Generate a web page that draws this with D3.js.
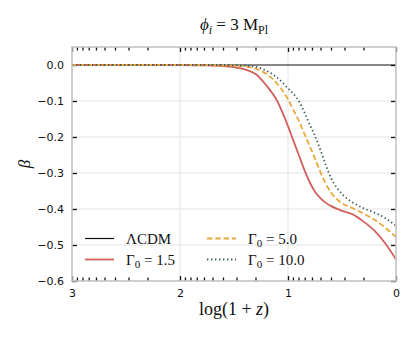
<!DOCTYPE html>
<html>
<head>
<meta charset="utf-8">
<script src="https://cdn.jsdelivr.net/npm/d3@7"></script>
<style>
  body { margin: 0; background: white; }
  svg { display: block; }
</style>
</head>
<body>
<div id="main_content"></div>
<script>
var width = 415, height = 338;
var margin = {left: 72, right: 19, top: 47, bottom: 57};

// log(1+z) grid, same for every model
var logz = [3.0, 2.0, 1.8, 1.6, 1.5, 1.4, 1.3, 1.2, 1.1, 1.0, 0.95, 0.9, 0.85, 0.8, 0.75, 0.7, 0.65, 0.6, 0.55, 0.5, 0.4, 0.3, 0.2, 0.1, 0.0];

var betaLCDM = logz.map(function() { return 0; });
var betaG15  = [0, 0, -0.001, -0.003, -0.006, -0.012, -0.025, -0.057, -0.100, -0.170, -0.210, -0.250, -0.290, -0.325, -0.352, -0.370, -0.383, -0.392, -0.399, -0.405, -0.415, -0.435, -0.460, -0.495, -0.540];
var betaG5   = [0, 0, 0, -0.001, -0.002, -0.004, -0.010, -0.025, -0.052, -0.095, -0.125, -0.155, -0.190, -0.225, -0.260, -0.297, -0.330, -0.355, -0.372, -0.384, -0.398, -0.413, -0.430, -0.452, -0.478];
var betaG10  = [0, 0, 0, 0, -0.001, -0.002, -0.005, -0.016, -0.035, -0.065, -0.080, -0.100, -0.130, -0.165, -0.197, -0.236, -0.278, -0.315, -0.340, -0.358, -0.382, -0.398, -0.410, -0.425, -0.447];

var xMajor = [3, 2, 1, 0];
var yTicks = [0.0, -0.1, -0.2, -0.3, -0.4, -0.5, -0.6];

var series = [
  {name: 'ΛCDM', values: betaLCDM, color: '#111111', width: 1.2, dash: null},
  {name: 'Γ₀ = 1.5', sub: '1.5', values: betaG15, color: '#d1605e', width: 1.8, dash: null},
  {name: 'Γ₀ = 5.0', sub: '5.0', values: betaG5, color: '#e9a93b', width: 1.8, dash: '5.5,2.8'},
  {name: 'Γ₀ = 10.0', sub: '10.0', values: betaG10, color: '#3f5f57', width: 1.8, dash: '1.4,2.6'}
];

var svg = d3.select('#main_content').append('svg')
  .attr('width', width)
  .attr('height', height)
  .style('background', 'white');

var x = d3.scaleLinear().domain([3, 0]).range([margin.left, width - margin.right]);
var y = d3.scaleLinear().domain([-0.6, 0.05]).range([height - margin.bottom, margin.top]);

var x0 = x.range()[0], x1 = x.range()[1], yb = y.range()[0], yt = y.range()[1];

// grid
svg.append('g').selectAll('line.gx')
  .data([2, 1]).enter().append('line')
  .attr('x1', function(d) { return x(d); }).attr('x2', function(d) { return x(d); })
  .attr('y1', yt).attr('y2', yb)
  .attr('stroke', '#e3e3e3').attr('stroke-width', 1);
svg.append('g').selectAll('line.gy')
  .data(yTicks.slice(1, 6)).enter().append('line')
  .attr('y1', function(d) { return y(d); }).attr('y2', function(d) { return y(d); })
  .attr('x1', x0).attr('x2', x1)
  .attr('stroke', '#e3e3e3').attr('stroke-width', 1);

// minor x ticks at n + log10(k)
var xMinor = [];
[0, 1, 2].forEach(function(n) {
  d3.range(2, 10).forEach(function(k) { xMinor.push(n + Math.log10(k)); });
});

var fontSans = '"DejaVu Sans", sans-serif';
var fontSerif = '"Liberation Serif", "DejaVu Serif", serif';

svg.append('g')
  .attr('transform', 'translate(0,' + yb + ')')
  .call(d3.axisBottom(x).tickValues(xMajor).tickFormat(d3.format('d')).tickSize(-5).tickPadding(8));
svg.append('g')
  .attr('transform', 'translate(0,' + yb + ')')
  .call(d3.axisBottom(x).tickValues(xMinor).tickFormat('').tickSize(-3.5));
svg.append('g')
  .attr('transform', 'translate(0,' + yt + ')')
  .call(d3.axisTop(x).tickValues(xMajor).tickFormat('').tickSize(-5));
svg.append('g')
  .attr('transform', 'translate(0,' + yt + ')')
  .call(d3.axisTop(x).tickValues(xMinor).tickFormat('').tickSize(-3.5));

svg.append('g')
  .attr('transform', 'translate(' + x0 + ',0)')
  .call(d3.axisLeft(y).tickValues(yTicks).tickFormat(function(d) {
    return d3.format('.1f')(d).replace('-', '\u2212');
  }).tickSize(-5).tickPadding(8));
svg.append('g')
  .attr('transform', 'translate(' + x1 + ',0)')
  .call(d3.axisRight(y).tickValues(yTicks).tickFormat('').tickSize(-5));

svg.selectAll('.domain').remove();
svg.selectAll('.tick line').attr('stroke', '#111').attr('stroke-width', 1.3);
svg.selectAll('.tick text').attr('fill', '#111').style('font-family', fontSans).style('font-size', '11px');

// curves
var line = d3.line()
  .x(function(d) { return x(d[0]); })
  .y(function(d) { return y(d[1]); })
  .curve(d3.curveMonotoneX);

series.forEach(function(s) {
  svg.append('path')
    .datum(logz.map(function(l, i) { return [l, s.values[i]]; }))
    .attr('d', line)
    .attr('fill', 'none')
    .attr('stroke', s.color)
    .attr('stroke-width', s.width)
    .attr('stroke-dasharray', s.dash);
});

// frame
svg.append('rect')
  .attr('x', x0).attr('y', yt)
  .attr('width', x1 - x0).attr('height', yb - yt)
  .attr('fill', 'none').attr('stroke', '#c4c4c4').attr('stroke-width', 1.6);

// legend
var legPos = [[85, 238.5], [85, 259.5], [207, 238.5], [207, 259.5]];
series.forEach(function(s, i) {
  var p = legPos[i];
  svg.append('line')
    .attr('x1', p[0]).attr('x2', p[0] + 29)
    .attr('y1', p[1]).attr('y2', p[1])
    .attr('stroke', s.color).attr('stroke-width', s.width)
    .attr('stroke-dasharray', s.dash);
  var t = svg.append('text')
    .attr('x', p[0] + 41).attr('y', p[1] + 5)
    .style('font-family', fontSerif).style('font-size', '15px').attr('fill', '#111');
  if (s.sub) {
    t.append('tspan').text('Γ');
    t.append('tspan').text('0').attr('dy', 3).style('font-size', '11px');
    t.append('tspan').text(' = ' + s.sub).attr('dy', -3);
  } else {
    t.text(s.name);
  }
});

// title
var title = svg.append('text')
  .attr('x', 234).attr('y', 30)
  .attr('text-anchor', 'middle')
  .style('font-family', fontSerif).style('font-size', '17px').attr('fill', '#111');
title.append('tspan').text('ϕ').style('font-style', 'italic');
title.append('tspan').text('i').attr('dy', 3.5).style('font-style', 'italic').style('font-size', '12px');
title.append('tspan').text(' = 3 M').attr('dy', -3.5);
title.append('tspan').text('Pl').attr('dy', 3.5).style('font-size', '12px');

// axis labels
svg.append('text')
  .attr('x', 234).attr('y', 315)
  .attr('text-anchor', 'middle')
  .style('font-family', fontSerif).style('font-size', '18px').attr('fill', '#111')
  .html('log(1 + <tspan font-style="italic">z</tspan>)');

svg.append('text')
  .attr('transform', 'translate(30,' + ((yt + yb) / 2) + ') rotate(-90)')
  .attr('text-anchor', 'middle')
  .style('font-family', fontSerif).style('font-size', '17px').style('font-style', 'italic').attr('fill', '#111')
  .text('β');
</script>
</body>
</html>
